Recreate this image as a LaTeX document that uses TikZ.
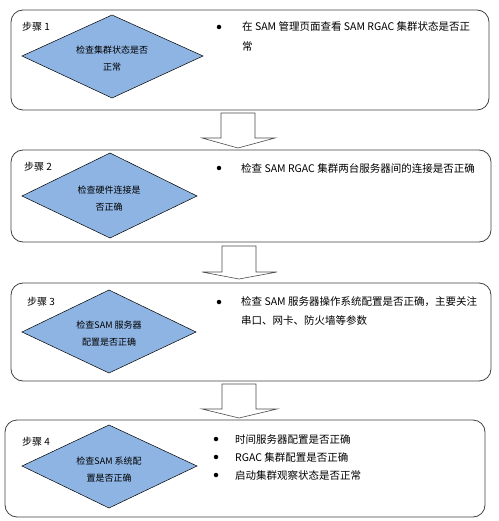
\documentclass[tikz,border=0pt]{standalone}
\usepackage{fontspec}
\setmainfont{Noto Sans CJK SC}
\definecolor{diablue}{RGB}{142,180,227}
\begin{document}
\begin{tikzpicture}[x=1pt,y=-1pt,
  frame/.style={draw=black!75,line width=0.8pt,rounded corners=12pt},
  dia/.style={draw=black,line width=0.5pt,fill=diablue},
  blockarrow/.style={draw=black!70,fill=white,line width=0.6pt},
  lab/.style={anchor=west,inner sep=0,font=\fontsize{10}{12}\selectfont},
  dtext/.style={align=center,inner sep=0,font=\fontsize{9}{17}\selectfont},
  body/.style={anchor=west,inner sep=0,font=\fontsize{10.5}{12}\selectfont},
  dot/.style={circle,fill=black,inner sep=0,minimum size=4.5pt}]
\useasboundingbox (0,0) rectangle (498,521);

% step 1
\draw[frame] (11,10) rectangle (489,110);
\draw[dia] (22,56) -- (112,15) -- (203,56) -- (112,98) -- cycle;
\node[dtext] (d1) at (112,59) {检查集群状态是否\\正常};
\node[lab] (l1) at (22,27) {步骤 1};
\node[dot] (p1) at (219,27) {};
\node[body] (t1a) at (242,27) {在 SAM 管理页面查看 SAM RGAC 集群状态是否正};
\node[body] (t1b) at (242,47) {常};

% arrow 1
\draw[blockarrow] (221,113) -- (255,113) -- (255,138) -- (275,138) -- (238,148) -- (202,138) -- (221,138) -- cycle;

% step 2
\draw[frame] (11,150) rectangle (491,242);
\draw[dia] (22,196) -- (110,153) -- (197,196) -- (110,238) -- cycle;
\node[dtext] (d2) at (109,199) {检查硬件连接是\\否正确};
\node[lab] (l2) at (24,167) {步骤 2};
\node[dot] (p2) at (219,168) {};
\node[body] (t2) at (241,168) {检查 SAM RGAC 集群两台服务器间的连接是否正确};

% arrow 2
\draw[blockarrow] (222,246) -- (256,246) -- (256,272) -- (277,272) -- (239,279) -- (202,272) -- (222,272) -- cycle;

% step 3
\draw[frame] (11,283) rectangle (491,381);
\draw[dia] (22,332) -- (109,290) -- (196,332) -- (109,373) -- cycle;
\node[dtext] (d3) at (109,334) {检查SAM 服务器\\配置是否正确};
\node[lab] (l3) at (27,302) {步骤 3};
\node[dot] (p3) at (219,302) {};
\node[body] (t3a) at (241,302) {检查 SAM 服务器操作系统配置是否正确，主要关注};
\node[body] (t3b) at (241,320) {串口、网卡、防火墙等参数};

% arrow 3
\draw[blockarrow] (222,384) -- (256,384) -- (256,409) -- (277,409) -- (239,418) -- (202,409) -- (222,409) -- cycle;

% step 4
\draw[frame] (5,420) rectangle (485,517);
\draw[dia] (22,466) -- (109,425) -- (197,466) -- (109,508) -- cycle;
\node[dtext] (d4) at (109,470) {检查SAM 系统配\\置是否正确};
\node[lab] (l4) at (22,442) {步骤 4};
\node[dot] (p4a) at (216,439) {};
\node[dot] (p4b) at (216,457) {};
\node[dot] (p4c) at (216,475) {};
\node[body] (t4a) at (235,439) {时间服务器配置是否正确};
\node[body] (t4b) at (235,457) {RGAC 集群配置是否正确};
\node[body] (t4c) at (235,475) {启动集群观察状态是否正常};
\end{tikzpicture}
\end{document}
